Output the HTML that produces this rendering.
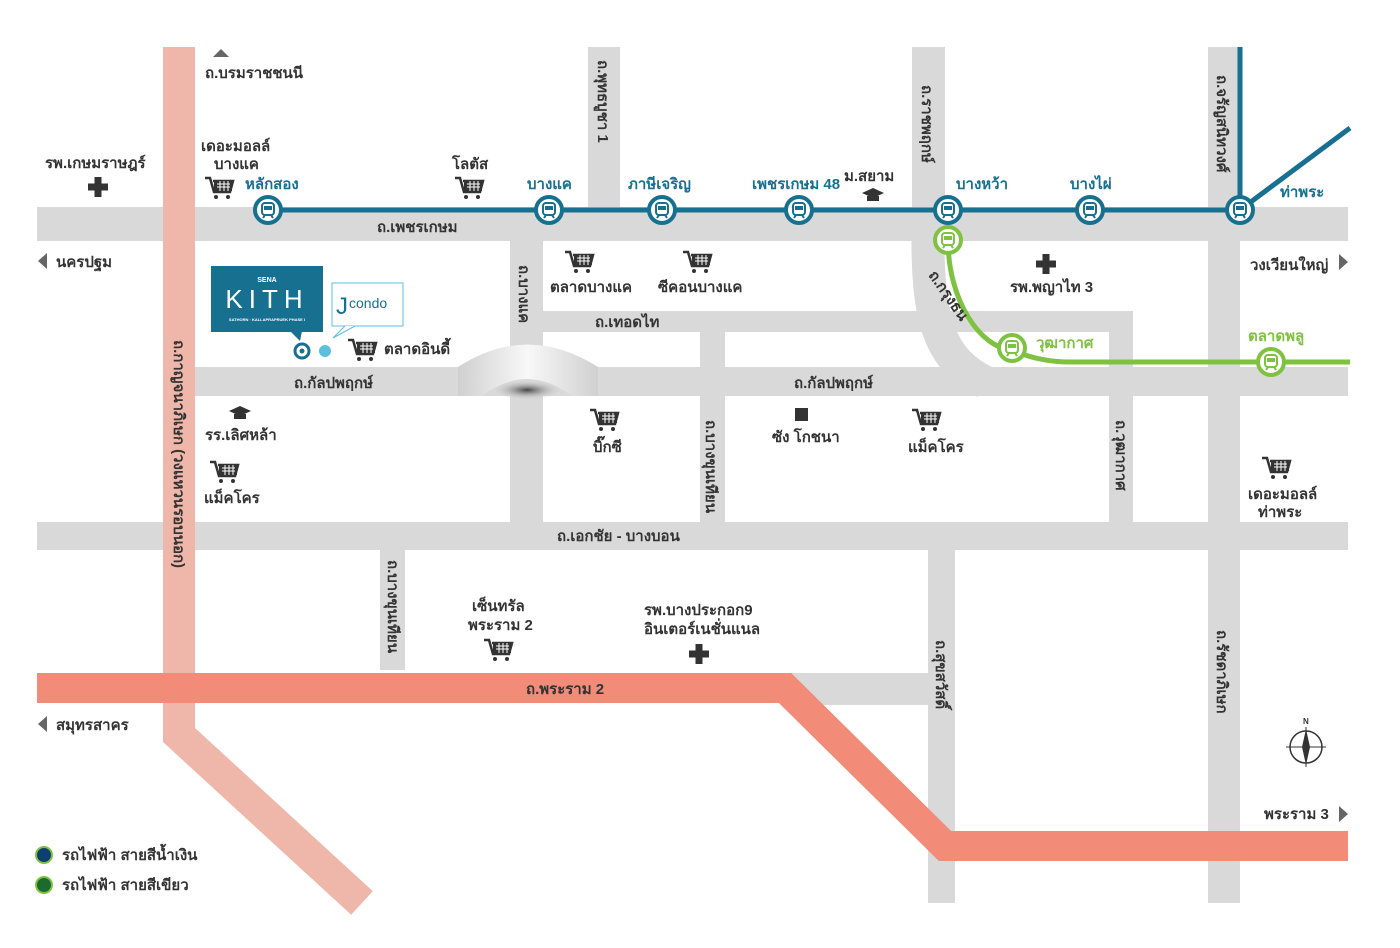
<!DOCTYPE html>
<html><head><meta charset="utf-8"><style>
body{margin:0;background:#fff}
svg text{font-family:"Liberation Sans","Noto Sans CJK SC",sans-serif;font-weight:bold;fill:#333;font-size:15px}
.b{fill:#17708f}.g{fill:#7fc241}
</style></head><body>
<svg width="1400" height="943" viewBox="0 0 1400 943" xmlns="http://www.w3.org/2000/svg">
<defs>
<radialGradient id="br" cx="0.5" cy="0.5" r="0.5"><stop offset="0" stop-color="#444"/><stop offset="1" stop-color="#d9d9d9" stop-opacity="0"/></radialGradient>
<linearGradient id="bg" x1="0" x2="1"><stop offset="0" stop-color="#d0d0d0"/><stop offset="0.5" stop-color="#f8f8f8"/><stop offset="1" stop-color="#d0d0d0"/></linearGradient>
<g id="cart"><path d="M0 0h5l4 14h16l3-11H8" fill="none" stroke="#333" stroke-width="2.5"/><rect x="9" y="3" width="18" height="10" fill="#333"/><path d="M12 6h13M12 9h13M15 3v10M19 3v10M23 3v10" stroke="#fff" stroke-width="1"/><circle cx="11" cy="19" r="2" fill="#333"/><circle cx="23" cy="19" r="2" fill="#333"/></g>
<g id="tr"><rect x="-6" y="-7" width="12" height="12" rx="3" fill="none" stroke="currentColor" stroke-width="2"/><rect x="-4" y="-4" width="8" height="4" fill="currentColor"/><path d="M-5 8l2-3M5 8l-2-3" stroke="currentColor" stroke-width="2"/></g>
<g id="plus"><rect x="-3.5" y="-10" width="7" height="20" fill="#333"/><rect x="-10" y="-3.5" width="20" height="7" fill="#333"/></g>
<g id="cap"><path d="M-11 -2l11-5 11 5-11 5z" fill="#333"/><path d="M-6 1v5h12v-5" fill="#333"/></g>
</defs>
<g fill="#d9d9d9">
<rect x="37" y="207" width="1311" height="34"/>
<rect x="195" y="367" width="1153" height="29"/>
<rect x="37" y="522" width="1311" height="28"/>
<rect x="543" y="311" width="590" height="21"/>
<rect x="510" y="241" width="33" height="309"/>
<rect x="588" y="47" width="32" height="160"/>
<rect x="912" y="47" width="33" height="194"/>
<rect x="1208" y="47" width="32" height="856"/>
<rect x="700" y="331" width="25" height="191"/>
<rect x="1109" y="311" width="24" height="211"/>
<rect x="380" y="550" width="25" height="120"/>
<rect x="928" y="550" width="27" height="353"/>
<rect x="790" y="673" width="140" height="32"/>
</g>
<path d="M928 241 C928 320 940 360 985 382" stroke="#d9d9d9" stroke-width="33" fill="none"/>
<path d="M458 367 Q527 322 598 367 V396 H572 Q527 362 482 396 H458 Z" fill="url(#bg)"/>
<ellipse cx="527" cy="390" rx="35" ry="10" fill="url(#br)"/>
<path d="M179 47 V735 L362 903" stroke="#efb6aa" stroke-width="32" fill="none"/>
<path d="M37 688 H785 L945 846 H1348" stroke="#f28b78" stroke-width="30" fill="none"/>
<path d="M268 210 H1240 V47 M1240 210 L1350 128" stroke="#17708f" stroke-width="5" fill="none"/>
<path d="M948 240 C948 300 980 348 1012 350 C1030 358 1050 362 1070 362 H1350" stroke="#7fc241" stroke-width="5" fill="none"/>
<g stroke-width="4" fill="#fff">
<g stroke="#17708f">
<circle cx="268" cy="210" r="13"/><circle cx="549" cy="210" r="13"/><circle cx="662" cy="210" r="13"/><circle cx="799" cy="210" r="13"/><circle cx="948" cy="210" r="13"/><circle cx="1090" cy="210" r="13"/><circle cx="1240" cy="210" r="13"/>
</g>
<g stroke="#7fc241"><circle cx="948" cy="240" r="13"/><circle cx="1012" cy="348" r="13"/><circle cx="1271" cy="362" r="13"/></g>
</g>
<g color="#17708f"><use href="#tr" x="268" y="210"/><use href="#tr" x="549" y="210"/><use href="#tr" x="662" y="210"/><use href="#tr" x="799" y="210"/><use href="#tr" x="948" y="210"/><use href="#tr" x="1090" y="210"/><use href="#tr" x="1240" y="210"/></g>
<g color="#7fc241"><use href="#tr" x="948" y="240"/><use href="#tr" x="1012" y="348"/><use href="#tr" x="1271" y="362"/></g>
<use href="#cart" x="205" y="178"/><use href="#cart" x="455" y="178"/><use href="#cart" x="565" y="252"/><use href="#cart" x="683" y="252"/><use href="#cart" x="348" y="340"/><use href="#cart" x="590" y="410"/><use href="#cart" x="912" y="410"/><use href="#cart" x="210" y="462"/><use href="#cart" x="484" y="640"/><use href="#cart" x="1262" y="458"/>
<use href="#plus" x="98" y="187"/><use href="#plus" x="1046" y="264"/><use href="#plus" x="699" y="654"/>
<use href="#cap" x="873" y="195"/><use href="#cap" x="240" y="413"/>
<rect x="795" y="408" width="13" height="13" fill="#333"/>
<path d="M213 57l8-8 8 8z" fill="#666"/>
<path d="M47 253v16l-9-8z" fill="#666"/><path d="M47 716v16l-9-8z" fill="#666"/>
<path d="M1339 254v16l9-8z" fill="#666"/><path d="M1339 806v16l9-8z" fill="#666"/>
<rect x="211" y="266" width="112" height="66" fill="#17708f"/>
<path d="M290 331l10 10 2-10z" fill="#17708f"/>
<text x="267" y="282" text-anchor="middle" style="fill:#fff;font-size:7px">SENA</text>
<text x="267" y="308" text-anchor="middle" style="fill:#fff;font-size:26px;font-weight:normal;letter-spacing:6px">KITH</text>
<text x="267" y="321" text-anchor="middle" style="fill:#fff;font-size:4px">SATHORN · KALLAPRAPRUEK PHASE I</text>
<rect x="332" y="283" width="71" height="43" fill="#fff" stroke="#5bc0de"/>
<path d="M345 326 l-12 12 22-12" fill="#fff" stroke="#5bc0de"/>
<text x="336" y="314" style="fill:#17708f;font-size:24px;font-weight:normal">J</text>
<text x="349" y="308" style="fill:#17708f;font-size:14px;font-weight:normal">condo</text>
<circle cx="302" cy="351" r="7" fill="none" stroke="#17708f" stroke-width="3"/><circle cx="302" cy="351" r="2.5" fill="#17708f"/>
<circle cx="325" cy="351" r="6" fill="#5bc0de"/>
<circle cx="1306" cy="747" r="16" fill="none" stroke="#333" stroke-width="1.5"/><path d="M1306 727v40M1286 747h40" stroke="#333"/><path d="M1302 747l4-18 4 18-4 18z" fill="#333"/><text x="1303" y="724" style="font-size:8px">N</text>
<circle cx="44" cy="855" r="8" fill="#0f3f6f" stroke="#7fc241" stroke-width="2"/>
<circle cx="44" cy="885" r="8" fill="#1e6a2e" stroke="#7fc241" stroke-width="2"/>
<text x="205" y="78">ถ.บรมราชชนนี</text>
<text x="45" y="168">รพ.เกษมราษฎร์</text>
<text x="201" y="151">เดอะมอลล์</text><text x="214" y="169">บางแค</text>
<text x="245" y="189" class="b">หลักสอง</text>
<text x="452" y="169">โลตัส</text>
<text x="527" y="189" class="b">บางแค</text>
<text x="628" y="189" class="b">ภาษีเจริญ</text>
<text x="752" y="189" class="b">เพชรเกษม 48</text>
<text x="844" y="181">ม.สยาม</text>
<text x="956" y="189" class="b">บางหว้า</text>
<text x="1070" y="189" class="b">บางไผ่</text>
<text x="1280" y="197" class="b">ท่าพระ</text>
<text x="377" y="232">ถ.เพชรเกษม</text>
<text x="56" y="267">นครปฐม</text>
<text x="1250" y="270">วงเวียนใหญ่</text>
<text x="550" y="292">ตลาดบางแค</text>
<text x="658" y="292">ซีคอนบางแค</text>
<text x="1010" y="292">รพ.พญาไท 3</text>
<text x="595" y="327">ถ.เทอดไท</text>
<text x="384" y="354">ตลาดอินดี้</text>
<text x="1036" y="348" class="g">วุฒากาศ</text>
<text x="1248" y="341" class="g">ตลาดพลู</text>
<text x="294" y="388">ถ.กัลปพฤกษ์</text>
<text x="794" y="388">ถ.กัลปพฤกษ์</text>
<text x="205" y="440">รร.เลิศหล้า</text>
<text x="593" y="452">บิ๊กซี</text>
<text x="772" y="442">ซัง โกชนา</text>
<text x="908" y="452">แม็คโคร</text>
<text x="204" y="503">แม็คโคร</text>
<text x="1248" y="499">เดอะมอลล์</text><text x="1258" y="517">ท่าพระ</text>
<text x="557" y="541">ถ.เอกชัย - บางบอน</text>
<text x="472" y="611">เซ็นทรัล</text><text x="468" y="630">พระราม 2</text>
<text x="644" y="615">รพ.บางประกอก9</text><text x="644" y="634">อินเตอร์เนชั่นแนล</text>
<text x="526" y="694">ถ.พระราม 2</text>
<text x="56" y="730">สมุทรสาคร</text>
<text x="1264" y="819">พระราม 3</text>
<text x="62" y="860">รถไฟฟ้า สายสีน้ำเงิน</text>
<text x="62" y="890">รถไฟฟ้า สายสีเขียว</text>
<g>
<text transform="translate(598 60) rotate(90)">ถ.พุทธบูชา 1</text>
<text transform="translate(922 85) rotate(90)">ถ.ราชพฤกษ์</text>
<text transform="translate(1217 75) rotate(90)">ถ.จรัญสนิทวงศ์</text>
<text transform="translate(519 265) rotate(90)">ถ.บางแค</text>
<text transform="translate(174 340) rotate(90)">ถ.กาญจนาภิเษก (วงแหวนรอบนอก)</text>
<text transform="translate(706 420) rotate(90)">ถ.บางขุนเทียน</text>
<text transform="translate(1116 420) rotate(90)">ถ.วุฒากาศ</text>
<text transform="translate(388 560) rotate(90)">ถ.บางขุนเทียน</text>
<text transform="translate(936 640) rotate(90)">ถ.สุขสวัสดิ์</text>
<text transform="translate(1217 630) rotate(90)">ถ.รัชดาภิเษก</text>
<text transform="translate(928 275) rotate(55)">ถ.กรุงธน</text>
</g>
</svg>
</body></html>
